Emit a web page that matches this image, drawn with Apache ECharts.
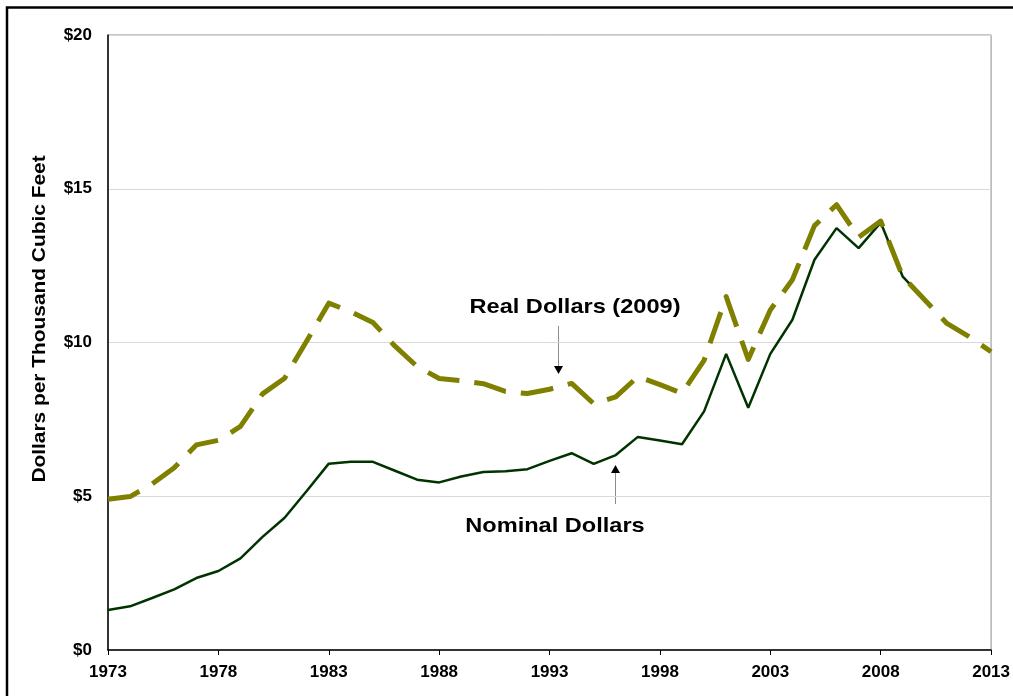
<!DOCTYPE html>
<html>
<head>
<meta charset="utf-8">
<script src="https://cdn.jsdelivr.net/npm/echarts@6/dist/echarts.min.js"></script>
<style>
html,body{margin:0;padding:0;background:#fff;}
#c{width:1013px;height:696px;}
</style>
</head>
<body>
<div id="c"></div>
<script>
const years = [1973,1974,1975,1976,1977,1978,1979,1980,1981,1982,1983,1984,1985,1986,1987,1988,1989,1990,1991,1992,1993,1994,1995,1996,1997,1998,1999,2000,2001,2002,2003,2004,2005,2006,2007,2008,2009,2010,2011,2012,2013];
const nominal = [1.30,1.42,1.69,1.97,2.34,2.57,2.98,3.68,4.30,5.17,6.06,6.12,6.12,5.83,5.54,5.45,5.64,5.79,5.81,5.88,6.15,6.40,6.05,6.34,6.93,6.81,6.69,7.76,9.63,7.88,9.63,10.74,12.69,13.72,13.07,13.90,12.14,11.38,null,null,null];
const real = [4.90,4.99,5.40,5.93,6.67,6.82,7.27,8.33,8.84,10.05,11.28,11.00,10.65,9.88,9.22,8.83,8.76,8.66,8.41,8.34,8.48,8.67,8.01,8.23,8.89,8.63,8.35,9.42,11.49,9.45,11.06,12.04,13.80,14.48,13.42,13.95,12.14,11.38,10.62,10.19,9.70];
const yTicks = [0,5,10,15,20];
const xTickStep = 5;

const pair = arr => years.map((y,i)=>[y, arr[i]]);
const font = '"Liberation Sans", Arial, sans-serif';

const chart = echarts.init(document.getElementById('c'), null, {renderer:'canvas'});
chart.setOption({
  animation:false,
  backgroundColor:'#fff',
  grid:{left:108, right:21, top:35, bottom:46, show:true, borderColor:'#8c8c8c', borderWidth:1},
  xAxis:{
    type:'value', min:years[0], max:years[years.length-1], interval:xTickStep,
    axisLine:{show:true, onZero:false, lineStyle:{color:'#000', width:1.5}},
    axisTick:{show:true, inside:false, length:5, lineStyle:{color:'#000', width:1}},
    splitLine:{show:false},
    axisLabel:{color:'#000', fontFamily:font, fontWeight:'bold', fontSize:17, margin:14, formatter:v=>String(v)}
  },
  yAxis:{
    type:'value', min:yTicks[0], max:yTicks[yTicks.length-1], interval:yTicks[1]-yTicks[0],
    axisLine:{show:true, lineStyle:{color:'#000', width:1.5}},
    axisTick:{show:false},
    splitLine:{show:true, lineStyle:{color:'#d9d9d9', width:1}},
    axisLabel:{color:'#000', fontFamily:font, fontWeight:'bold', fontSize:17, margin:16, formatter:v=>'$'+v}
  },
  series:[
    {name:'Nominal Dollars', type:'line', data:pair(nominal), symbol:'none', connectNulls:false,
     lineStyle:{color:'#003300', width:2.5}, z:2},
    {name:'Real Dollars (2009)', type:'line', data:pair(real), symbol:'none',
     lineStyle:{color:'#808000', width:5, type:[33,15], join:'round'}, z:3}
  ],
  graphic:[
    {type:'rect', x:0, y:0, shape:{x:7, y:7.5, width:1020, height:700}, style:{fill:'none', stroke:'#000', lineWidth:2.5}, silent:true},
    {type:'text', x:40, y:319, rotation:Math.PI/2, scaleX:1.16, style:{text:'Dollars per Thousand Cubic Feet', fill:'#000', font:'bold 18px '+font, textAlign:'center', textVerticalAlign:'middle'}},
    {type:'text', x:575, y:307, scaleX:1.15, style:{text:'Real Dollars (2009)', fill:'#000', font:'bold 20.5px '+font, textAlign:'center', textVerticalAlign:'middle'}},
    {type:'text', x:555, y:526, scaleX:1.15, style:{text:'Nominal Dollars', fill:'#000', font:'bold 20.5px '+font, textAlign:'center', textVerticalAlign:'middle'}},
    {type:'line', shape:{x1:558.5, y1:326, x2:558.5, y2:367}, style:{stroke:'#8c8c8c', lineWidth:1}},
    {type:'polygon', shape:{points:[[554,366],[563,366],[558.5,374]]}, style:{fill:'#000'}},
    {type:'line', shape:{x1:615.5, y1:504, x2:615.5, y2:472}, style:{stroke:'#8c8c8c', lineWidth:1}},
    {type:'polygon', shape:{points:[[611,473],[620,473],[615.5,465]]}, style:{fill:'#000'}}
  ]
});
</script>
</body>
</html>
